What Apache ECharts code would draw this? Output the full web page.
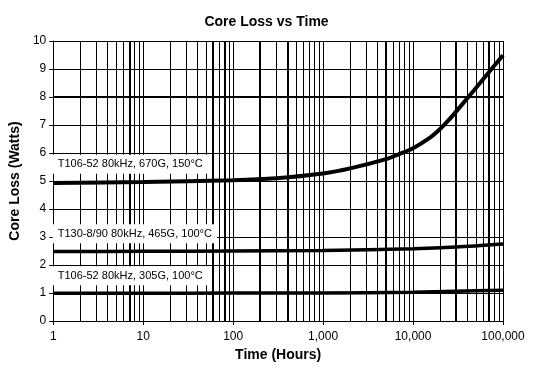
<!DOCTYPE html>
<html>
<head>
<meta charset="utf-8">
<script src="https://cdn.jsdelivr.net/npm/echarts@6/dist/echarts.min.js"></script>
<style>
html,body{margin:0;padding:0;background:#fff;}
#chart{width:533px;height:371px;}
</style>
</head>
<body>
<div id="chart"></div>
<script>
// ---- data ----
var hours670 = [1, 10, 100, 300, 1000, 2000, 5000, 7000, 10000, 15000, 20000, 25000, 33000, 40000, 50000, 70000, 100000];
var loss670  = [4.93, 4.96, 5.03, 5.10, 5.27, 5.45, 5.78, 5.96, 6.17, 6.52, 6.86, 7.18, 7.63, 7.95, 8.32, 8.89, 9.49];
var hoursLow = [1, 10, 100, 1000, 10000, 30000, 100000];
var loss465  = [2.48, 2.49, 2.50, 2.52, 2.58, 2.64, 2.75];
var loss305  = [0.99, 0.99, 1.00, 1.00, 1.03, 1.06, 1.10];
var seriesNames = ['T106-52 80kHz, 670G, 150°C', 'T130-8/90 80kHz, 465G, 100°C', 'T106-52 80kHz, 305G, 100°C'];
var labelAnchors = [5.6, 3.12, 1.62]; // watts at which each series caption sits (at 1 hour)
var decades = [1, 10, 100, 1000, 10000];
var heavyGrid = [7, 60, 80, 200, 400, 5000, 30000, 70000];

var FONT = "'Liberation Sans', Arial, sans-serif";

function pairs(xs, ys){ return xs.map(function(x,i){ return [x, ys[i]]; }); }

var gridLines = [];
decades.forEach(function(d){
  for (var m = 2; m <= 9; m++) {
    var v = d * m;
    gridLines.push({xAxis: v, lineStyle: {width: heavyGrid.indexOf(v) >= 0 ? 2 : 1, color: '#000', type: 'solid'}});
  }
});
gridLines.push({yAxis: 8, lineStyle: {width: 2, color: '#000', type: 'solid'}});

function captionPoint(i){
  return {
    symbol: 'rect', symbolSize: 1, silent: true, z: 10, animation: false,
    itemStyle: {color: 'rgba(0,0,0,0)'},
    data: [{coord: [1, labelAnchors[i]], name: seriesNames[i], value: labelAnchors[i]}],
    label: {
      show: true, position: 'right', distance: -1,
      formatter: seriesNames[i],
      color: '#000', fontFamily: FONT, fontSize: 11,
      backgroundColor: '#fff', padding: [4, 5, 4, 5]
    }
  };
}

var dataSets = [pairs(hours670, loss670), pairs(hoursLow, loss465), pairs(hoursLow, loss305)];
var lineSeries = dataSets.map(function(d, i){
  return {
    name: seriesNames[i], type: 'line', data: d,
    smooth: 0.3, showSymbol: false, symbol: 'none',
    lineStyle: {color: '#000', width: i === 0 ? 4 : 3.5},
    z: 3,
    markPoint: captionPoint(i)
  };
});
lineSeries[2].markLine = {
  silent: true, symbol: ['none', 'none'], z: 1, animation: false,
  label: {show: false}, data: gridLines
};

var chart = echarts.init(document.getElementById('chart'), null, {renderer: 'canvas'});
chart.setOption({
  animation: false,
  backgroundColor: '#fff',
  title: {
    text: 'Core Loss vs Time', left: 'center', top: 10,
    textStyle: {fontFamily: FONT, fontSize: 14, fontWeight: 'bold', color: '#000'}
  },
  grid: {left: 52, right: 30, top: 41, bottom: 50, containLabel: false},
  xAxis: {
    type: 'log', logBase: 10, min: 1, max: 100000,
    name: 'Time (Hours)', nameLocation: 'middle', nameGap: 27,
    nameTextStyle: {fontFamily: FONT, fontSize: 14, fontWeight: 'bold', color: '#000'},
    axisLine: {show: true, lineStyle: {color: '#000', width: 1}},
    axisTick: {show: true, length: 4, lineStyle: {color: '#000'}},
    axisLabel: {
      color: '#000', fontFamily: FONT, fontSize: 12, margin: 10,
      formatter: function(v){ return Math.round(v).toLocaleString('en-US'); }
    },
    splitLine: {show: true, lineStyle: {color: '#000', width: 1}},
    minorTick: {show: false}, minorSplitLine: {show: false}
  },
  yAxis: {
    type: 'value', min: 0, max: 10, interval: 1,
    name: 'Core Loss (Watts)', nameLocation: 'middle', nameGap: 30, nameRotate: 90,
    nameTextStyle: {fontFamily: FONT, fontSize: 14, fontWeight: 'bold', color: '#000'},
    axisLine: {show: true, lineStyle: {color: '#000', width: 1}},
    axisTick: {show: true, length: 4, lineStyle: {color: '#000'}},
    axisLabel: {color: '#000', fontFamily: FONT, fontSize: 12, margin: 7},
    splitLine: {show: true, lineStyle: {color: '#000', width: 1}}
  },
  series: lineSeries
});
</script>
</body>
</html>
